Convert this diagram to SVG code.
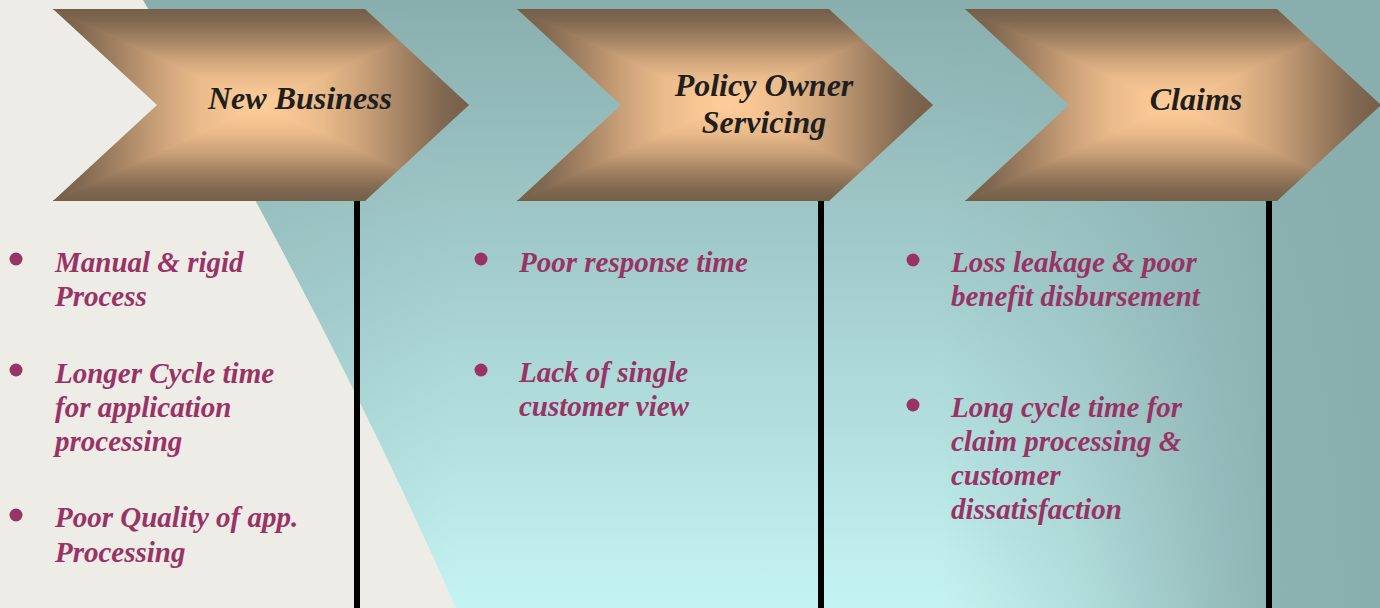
<svg xmlns="http://www.w3.org/2000/svg" xmlns:xlink="http://www.w3.org/1999/xlink" width="1380" height="608" viewBox="0 0 1380 608">
  <style>
    .head { font-family: "Liberation Serif", "Times New Roman", serif; font-weight: bold; font-style: italic; font-size: 32px; fill: #1f1f1f; text-anchor: middle; }
    .item { font-family: "Liberation Serif", "Times New Roman", serif; font-weight: bold; font-style: italic; font-size: 29px; fill: #993366; }
    .dot { fill: #993366; }
    .divider { stroke: #000000; stroke-width: 6; }
  </style>
  <defs>
    <linearGradient id="bgV" x1="0" y1="0" x2="0" y2="608" gradientUnits="userSpaceOnUse">
      <stop offset="0" stop-color="#89aeae"/>
      <stop offset="0.5" stop-color="#a6d1d0"/>
      <stop offset="1" stop-color="#c4f4f1"/>
    </linearGradient>
    <linearGradient id="bgH" x1="0" y1="0" x2="1380" y2="0" gradientUnits="userSpaceOnUse">
      <stop offset="0" stop-color="#89aeae" stop-opacity="0.6"/>
      <stop offset="0.33" stop-color="#89aeae" stop-opacity="0"/>
      <stop offset="0.68" stop-color="#89aeae" stop-opacity="0"/>
      <stop offset="0.78" stop-color="#89aeae" stop-opacity="0.3"/>
      <stop offset="0.88" stop-color="#89aeae" stop-opacity="0.75"/>
      <stop offset="0.93" stop-color="#89aeae" stop-opacity="0.95"/>
      <stop offset="1" stop-color="#89aeae" stop-opacity="1"/>
    </linearGradient>
    <clipPath id="chevClip">
      <polygon points="0,0 312,0 416,96 312,192 0,192 104,96"/>
    </clipPath>
    <linearGradient id="gTop" x1="0" y1="0" x2="0" y2="96" gradientUnits="userSpaceOnUse">
      <stop offset="0" stop-color="#745f49"/>
      <stop offset="0.12" stop-color="#806750"/>
      <stop offset="0.3" stop-color="#a08061"/>
      <stop offset="0.5" stop-color="#c9a077"/>
      <stop offset="0.7" stop-color="#e9ba8a"/>
      <stop offset="0.88" stop-color="#f8c794"/>
      <stop offset="1" stop-color="#fdcd9b"/>
    </linearGradient>
    <linearGradient id="gBot" xlink:href="#gTop" x1="0" y1="192" x2="0" y2="96" gradientUnits="userSpaceOnUse"/>
    <linearGradient id="gLeft" xlink:href="#gTop" x1="0" y1="0" x2="208" y2="0" gradientUnits="userSpaceOnUse"/>
    <linearGradient id="gRight" xlink:href="#gTop" x1="416" y1="0" x2="208" y2="0" gradientUnits="userSpaceOnUse"/>
    <g id="chev">
      <g clip-path="url(#chevClip)">
        <polygon points="0,0 416,0 208,96" fill="url(#gTop)" stroke="url(#gTop)" stroke-width="1"/>
        <polygon points="0,192 416,192 208,96" fill="url(#gBot)" stroke="url(#gBot)" stroke-width="1"/>
        <polygon points="0,0 0,192 208,96" fill="url(#gLeft)" stroke="url(#gLeft)" stroke-width="1"/>
        <polygon points="416,0 416,192 208,96" fill="url(#gRight)" stroke="url(#gRight)" stroke-width="1"/>
      </g>
    </g>
  </defs>

  <g id="background">
    <rect x="0" y="0" width="1380" height="608" fill="url(#bgV)"/>
    <rect x="0" y="0" width="1380" height="608" fill="url(#bgH)"/>
    <path d="M0,0 L143,0 Q331.5,325 456,608 L0,608 Z" fill="#edece6"/>
  </g>

  <g id="connectors">
    <line class="divider" x1="357" y1="200" x2="357" y2="608"/>
    <line class="divider" x1="821" y1="200" x2="821" y2="608"/>
    <line class="divider" x1="1269" y1="200" x2="1269" y2="608"/>
  </g>

  <g id="node-new-business">
    <use xlink:href="#chev" transform="translate(53,9)"/>
    <text class="head" x="300" y="109">New Business</text>
    <circle class="dot" cx="16" cy="259" r="6.5"/>
    <text class="item" x="55" y="272">Manual &amp; rigid</text>
    <text class="item" x="55" y="306">Process</text>
    <circle class="dot" cx="16" cy="370" r="6.5"/>
    <text class="item" x="55" y="382.5">Longer Cycle time</text>
    <text class="item" x="55" y="416.5">for application</text>
    <text class="item" x="55" y="450.5">processing</text>
    <circle class="dot" cx="16" cy="515" r="6.5"/>
    <text class="item" x="55" y="527">Poor Quality of app.</text>
    <text class="item" x="55" y="561.5">Processing</text>
  </g>

  <g id="node-policy-owner-servicing">
    <use xlink:href="#chev" transform="translate(517,9)"/>
    <text class="head" x="764" y="96">Policy Owner</text>
    <text class="head" x="764" y="133">Servicing</text>
    <circle class="dot" cx="481" cy="259" r="6.5"/>
    <text class="item" x="519" y="272">Poor response time</text>
    <circle class="dot" cx="481" cy="370" r="6.5"/>
    <text class="item" x="519" y="382">Lack of single</text>
    <text class="item" x="519" y="416">customer view</text>
  </g>

  <g id="node-claims">
    <use xlink:href="#chev" transform="translate(965,9)"/>
    <text class="head" x="1196" y="110">Claims</text>
    <circle class="dot" cx="913" cy="260" r="6.5"/>
    <text class="item" x="951" y="272">Loss leakage &amp; poor</text>
    <text class="item" x="951" y="306">benefit disbursement</text>
    <circle class="dot" cx="913" cy="405" r="6.5"/>
    <text class="item" x="951" y="416.5">Long cycle time for</text>
    <text class="item" x="951" y="450.5">claim processing &amp;</text>
    <text class="item" x="951" y="484.5">customer</text>
    <text class="item" x="951" y="518.5">dissatisfaction</text>
  </g>
</svg>
